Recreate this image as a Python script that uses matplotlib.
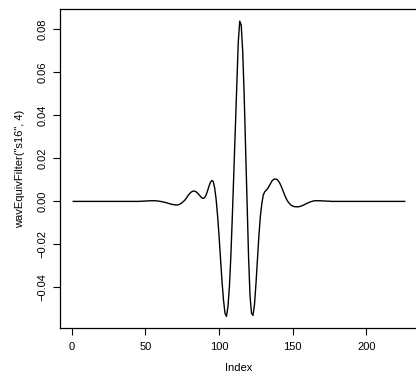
import numpy as np
import matplotlib
matplotlib.use("Agg")
import matplotlib.pyplot as plt

# wavEquivFilter("s16", 4): 226 coefficients
lead_zeros = [
    0.0, 0.0, 0.0, 0.0, 0.0, 0.0, 0.0, 0.0, 0.0, 0.0, 0.0, 0.0, 0.0, 0.0, 0.0,
    0.0, 0.0, 0.0, 0.0, 0.0, 0.0, 0.0, 0.0, 0.0, 0.0, 0.0, 0.0, 0.0, 0.0, 0.0,
    0.0, 0.0, 0.0, 0.0, 0.0, 0.0, 0.0, 0.0, 0.0, 0.0, 0.0, 0.0, 0.0, 0.0, 0.0,
]

middle = [
    0.0000, 0.0001, 0.0001, 0.0001, 0.0002, 0.0002, 0.0002, 0.0003, 0.0003, 0.0003,
    0.0003, 0.0003, 0.0002, 0.0001, 0.0000,
    -0.0001, -0.0003, -0.0004, -0.0006, -0.0008, -0.0010, -0.0012, -0.0014, -0.0015, -0.0016,
    -0.0017, -0.0016, -0.0014, -0.0010, -0.0005,
    0.0001, 0.0008, 0.0018, 0.0028, 0.0036, 0.0043, 0.0047, 0.0048, 0.0046, 0.0041,
    0.0034, 0.0026, 0.0018, 0.0014, 0.0016,
    0.0027, 0.0046, 0.0068, 0.0087, 0.0097, 0.0093, 0.0062, 0.0008, -0.0070, -0.0165,
    -0.0270, -0.0375, -0.0460, -0.0520, -0.0535,
    -0.0490, -0.0395, -0.0250, -0.0065, 0.0140, 0.0350, 0.0560, 0.0740, 0.0838, 0.0820,
    0.0700, 0.0495, 0.0245, -0.0015, -0.0260,
    -0.0440, -0.0520, -0.0530, -0.0480, -0.0385, -0.0270, -0.0160, -0.0070, -0.0010, 0.0030,
    0.0045, 0.0052, 0.0060, 0.0072, 0.0085,
    0.0096, 0.0102, 0.0104, 0.0103, 0.0097, 0.0087, 0.0073, 0.0056, 0.0038, 0.0021,
    0.0007, -0.0004, -0.0012, -0.0018, -0.0022,
    -0.0024, -0.0025, -0.0025, -0.0025, -0.0023, -0.0021, -0.0018, -0.0015, -0.0011, -0.0008,
    -0.0005, -0.0002, 0.0000, 0.0002, 0.0003,
    0.0003, 0.0003, 0.0003, 0.0003, 0.0002, 0.0002, 0.0002, 0.0001, 0.0001, 0.0001,
]

trail_zeros = [
    0.0, 0.0, 0.0, 0.0, 0.0, 0.0, 0.0, 0.0, 0.0, 0.0, 0.0, 0.0, 0.0, 0.0, 0.0, 0.0, 0.0,
    0.0, 0.0, 0.0, 0.0, 0.0, 0.0, 0.0, 0.0, 0.0, 0.0, 0.0, 0.0, 0.0, 0.0, 0.0, 0.0, 0.0,
    0.0, 0.0, 0.0, 0.0, 0.0, 0.0, 0.0, 0.0, 0.0, 0.0, 0.0, 0.0, 0.0, 0.0, 0.0, 0.0, 0.0,
]

values = lead_zeros + middle + trail_zeros
index = np.arange(1, len(values) + 1)

x_ticks = [0, 50, 100, 150, 200]
y_ticks = [-0.04, -0.02, 0.00, 0.02, 0.04, 0.06, 0.08]

plt.rcParams["font.family"] = ["Liberation Sans", "DejaVu Sans"]

W, H = 416, 383
fig = plt.figure(figsize=(W / 100, H / 100), dpi=100)
ax = fig.add_axes([60 / W, (H - 328.3) / H, 358 / W, 319 / H])

ax.plot(index, values, color="black", linewidth=1.0)

ax.margins(x=0.04, y=0.04)
ax.set_xticks(x_ticks)
ax.set_yticks(y_ticks)
ax.set_xticklabels([str(t) for t in x_ticks])
ax.set_yticklabels([f"{t:.2f}".replace("-", "\u2212") for t in y_ticks],
                   rotation=90, va="center")
ax.tick_params(axis="both", direction="out", length=5, width=0.8,
               labelsize=8, color="black")
ax.tick_params(axis="x", pad=5)
ax.tick_params(axis="y", pad=4)

for s in ax.spines.values():
    s.set_linewidth(0.9)

ax.set_xlabel("Index", fontsize=8, labelpad=8)
ax.set_ylabel('wavEquivFilter("s16", 4)', fontsize=8, labelpad=9)

fig.savefig("out.png", dpi=100)
